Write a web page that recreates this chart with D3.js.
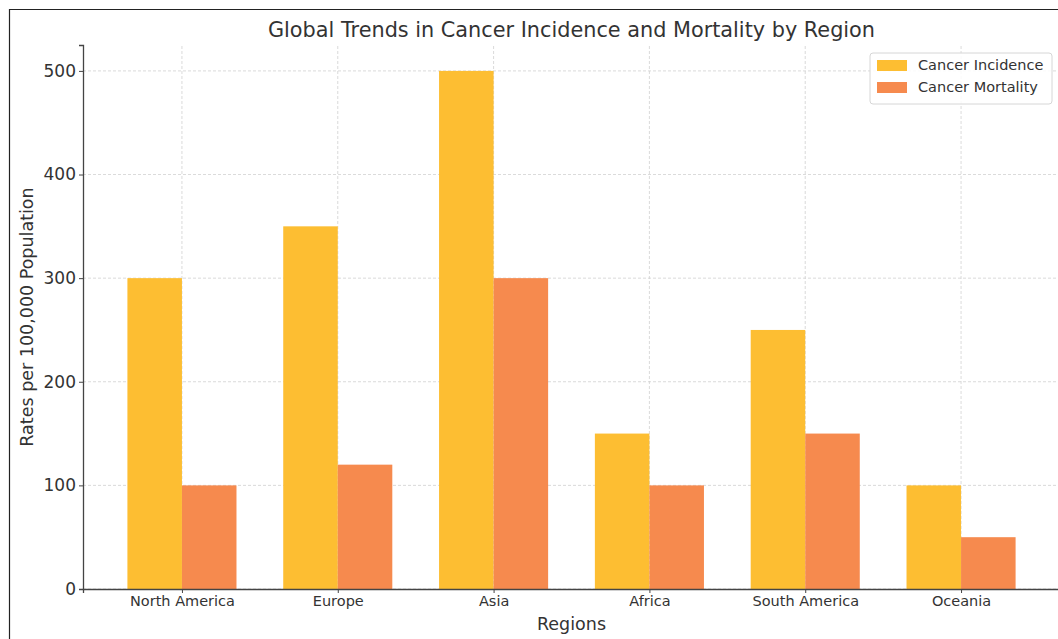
<!DOCTYPE html>
<html>
<head>
<meta charset="utf-8">
<script src="https://cdn.jsdelivr.net/npm/d3@7"></script>
<style>
  body { margin: 0; background: #fff; }
  text { font-family: 'DejaVu Sans', sans-serif; fill: #333; }
</style>
</head>
<body>
<div id="chart"></div>
<script>
const regions = ['North America', 'Europe', 'Asia', 'Africa', 'South America', 'Oceania']
const incidence = [300, 350, 500, 150, 250, 100]
const mortality = [100, 120, 300, 100, 150, 50]
const seriesNames = ['Cancer Incidence', 'Cancer Mortality']
const seriesColors = ['#fdbe32', '#f68a4e']
const yTicks = [0, 100, 200, 300, 400, 500]

const width = 1058, height = 639
const margin = {top: 45, left: 83, bottom: 50}
const plotRight = 1060
const barW = 0.35

const svg = d3.select('#chart').append('svg')
  .attr('width', width)
  .attr('height', height)

// frame of the screenshot
svg.append('path')
  .attr('d', `M9.5,${height} V9.5 H${width}`)
  .attr('fill', 'none')
  .attr('stroke', '#222')
  .attr('stroke-width', 1.2)

const x = d3.scaleLinear()
  .domain([-0.635, regions.length - 1 + 0.635])
  .range([margin.left, plotRight])
const y = d3.scaleLinear()
  .domain([0, 525])
  .range([height - margin.bottom, margin.top])

const grid = svg.append('g')
  .attr('stroke', '#d0d0d0')
  .attr('stroke-dasharray', '3,2')
  .attr('stroke-width', 0.8)
grid.selectAll('.gy').data(yTicks).enter().append('line')
  .attr('x1', margin.left).attr('x2', plotRight)
  .attr('y1', d => y(d)).attr('y2', d => y(d))
grid.selectAll('.gx').data(regions).enter().append('line')
  .attr('x1', (d, i) => x(i)).attr('x2', (d, i) => x(i))
  .attr('y1', y(0)).attr('y2', margin.top)

const series = [incidence, mortality]
series.forEach((vals, s) => {
  svg.append('g').selectAll('rect')
    .data(vals)
    .enter().append('rect')
    .attr('x', (d, i) => x(i + (s === 0 ? -barW : 0)))
    .attr('width', x(barW) - x(0))
    .attr('y', d => y(d))
    .attr('height', d => y(0) - y(d))
    .attr('fill', seriesColors[s])
})

// axes
const yAxis = svg.append('g')
  .attr('transform', `translate(${margin.left},0)`)
  .call(d3.axisLeft(y).tickValues(yTicks).tickSize(4).tickPadding(3))
yAxis.selectAll('text').style('font-size', '17px')
const xAxis = svg.append('g')
  .attr('transform', `translate(0,${y(0)})`)
  .call(d3.axisBottom(x).tickValues(d3.range(regions.length)).tickFormat(i => regions[i]).tickSize(4).tickPadding(3))
xAxis.selectAll('text').style('font-size', '14.5px')
svg.selectAll('.domain').attr('stroke', '#444').attr('stroke-width', 1.3)
svg.selectAll('.tick line').attr('stroke', '#444')

svg.append('text')
  .attr('x', (margin.left + plotRight) / 2)
  .attr('y', 37)
  .attr('text-anchor', 'middle')
  .style('font-size', '20.8px')
  .text('Global Trends in Cancer Incidence and Mortality by Region')

svg.append('text')
  .attr('x', (margin.left + plotRight) / 2)
  .attr('y', 630)
  .attr('text-anchor', 'middle')
  .style('font-size', '17.5px')
  .text('Regions')

svg.append('text')
  .attr('transform', `translate(33,${(margin.top + y(0)) / 2}) rotate(-90)`)
  .attr('text-anchor', 'middle')
  .style('font-size', '17.5px')
  .text('Rates per 100,000 Population')

// legend
const legend = svg.append('g').attr('transform', 'translate(870,53)')
legend.append('rect')
  .attr('width', 182).attr('height', 51)
  .attr('rx', 3)
  .attr('fill', 'rgba(255,255,255,0.85)')
  .attr('stroke', '#d6d6d6')
seriesNames.forEach((name, i) => {
  legend.append('rect')
    .attr('x', 7).attr('y', 7 + i * 22)
    .attr('width', 30).attr('height', 11)
    .attr('fill', seriesColors[i])
  legend.append('text')
    .attr('x', 48).attr('y', 17 + i * 22)
    .style('font-size', '14.5px')
    .text(name)
})
</script>
</body>
</html>
